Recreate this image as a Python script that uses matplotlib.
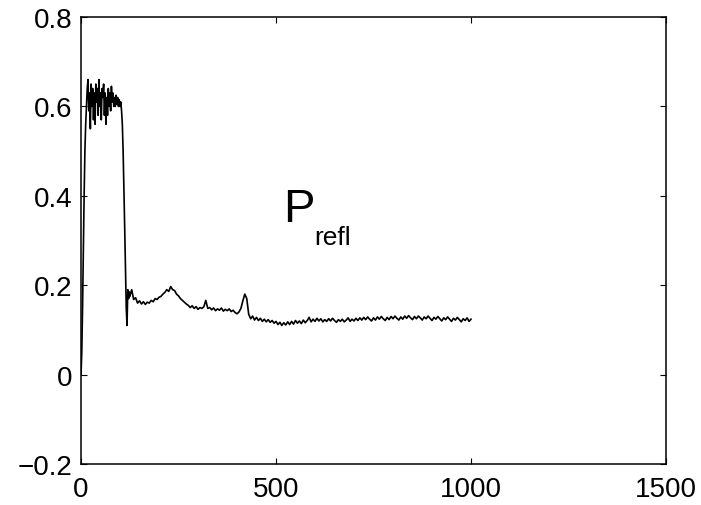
import numpy as np
import matplotlib
matplotlib.use("Agg")
import matplotlib.pyplot as plt

plt.rcParams['font.family'] = ['Liberation Sans', 'DejaVu Sans']

# Head of the trace: samples every 2 units starting at 0
head_y = [0.00, 0.05, 0.15, 0.28, 0.40, 0.50, 0.56, 0.60, 0.64, 0.66,
          0.59, 0.63, 0.55, 0.65, 0.60, 0.64, 0.57, 0.63, 0.56, 0.65,
          0.61, 0.64, 0.58, 0.66, 0.60, 0.63, 0.57, 0.64, 0.62, 0.65,
          0.58, 0.63, 0.56, 0.62, 0.58, 0.64, 0.60, 0.63, 0.59, 0.645,
          0.61, 0.63, 0.60, 0.62, 0.60, 0.625, 0.605, 0.62, 0.60, 0.615,
          0.60, 0.61, 0.59, 0.56, 0.50, 0.42, 0.33, 0.24, 0.15, 0.11,
          0.19, 0.17, 0.185]

# Tail of the trace: samples every 5 units starting at 125
tail_y = [0.175, 0.190, 0.168, 0.172, 0.160, 0.165, 0.158, 0.163, 0.157, 0.162,
          0.160, 0.166, 0.163, 0.170, 0.168, 0.173, 0.175, 0.180, 0.184, 0.190,
          0.186, 0.197, 0.190, 0.188, 0.180, 0.176, 0.170, 0.166, 0.162, 0.158,
          0.155, 0.150, 0.154, 0.148, 0.152, 0.146, 0.150, 0.148, 0.152, 0.166,
          0.148, 0.150, 0.145, 0.149, 0.143, 0.147, 0.144, 0.149, 0.142, 0.146,
          0.143, 0.147, 0.141, 0.144, 0.139, 0.136, 0.140, 0.148, 0.165, 0.180,
          0.170, 0.135, 0.125, 0.131, 0.122, 0.128, 0.121, 0.126, 0.119, 0.124,
          0.118, 0.123, 0.117, 0.121, 0.115, 0.119, 0.112, 0.117, 0.110, 0.116,
          0.111, 0.118, 0.112, 0.119, 0.113, 0.121, 0.115, 0.120, 0.114, 0.122,
          0.116, 0.121, 0.128, 0.118, 0.124, 0.119, 0.126, 0.120, 0.125, 0.118,
          0.123, 0.119, 0.125, 0.120, 0.126, 0.121, 0.117, 0.123, 0.119, 0.124,
          0.118, 0.122, 0.127, 0.119, 0.124, 0.120, 0.126, 0.121, 0.127, 0.122,
          0.128, 0.123, 0.129, 0.124, 0.120, 0.127, 0.122, 0.129, 0.124, 0.130,
          0.125, 0.121, 0.128, 0.123, 0.130, 0.125, 0.131, 0.126, 0.122, 0.129,
          0.124, 0.131, 0.126, 0.132, 0.127, 0.123, 0.130, 0.125, 0.131, 0.127,
          0.122, 0.129, 0.125, 0.131, 0.126, 0.121, 0.128, 0.124, 0.130, 0.125,
          0.120, 0.127, 0.123, 0.129, 0.124, 0.119, 0.126, 0.122, 0.128, 0.123,
          0.118, 0.125, 0.121, 0.127, 0.119, 0.124]

head_x = 2 * np.arange(len(head_y))
tail_x = 125 + 5 * np.arange(len(tail_y))
x = np.concatenate([head_x, tail_x])
y = np.concatenate([head_y, tail_y])

x_ticks = [0, 500, 1000, 1500]
y_ticks = [-0.2, 0, 0.2, 0.4, 0.6, 0.8]
y_tick_labels = ['\u22120.2', '0', '0.2', '0.4', '0.6', '0.8']

fig = plt.figure(figsize=(7.01, 5.06), dpi=100)
ax = fig.add_axes([81/701, 41/506, 585/701, 447/506])
ax.plot(x, y, color='black', lw=1.2)

ax.set_xlim(0, 1500)
ax.set_ylim(-0.2, 0.8)
ax.set_xticks(x_ticks)
ax.set_xticklabels([str(t) for t in x_ticks])
ax.set_yticks(y_ticks)
ax.set_yticklabels(y_tick_labels)
ax.tick_params(direction='in', top=True, right=True, length=4, width=0.8,
               labelsize=20, colors='black')
ax.tick_params(axis='x', pad=9)
ax.tick_params(axis='y', pad=6)
for s in ax.spines.values():
    s.set_linewidth(1.1)
    s.set_color('black')

ax.text(518, 0.344, 'P', fontsize=34, color='black', ha='left', va='baseline')
ax.text(598, 0.292, 'refl', fontsize=19, color='black', ha='left', va='baseline')

fig.savefig('out.png', dpi=100)
